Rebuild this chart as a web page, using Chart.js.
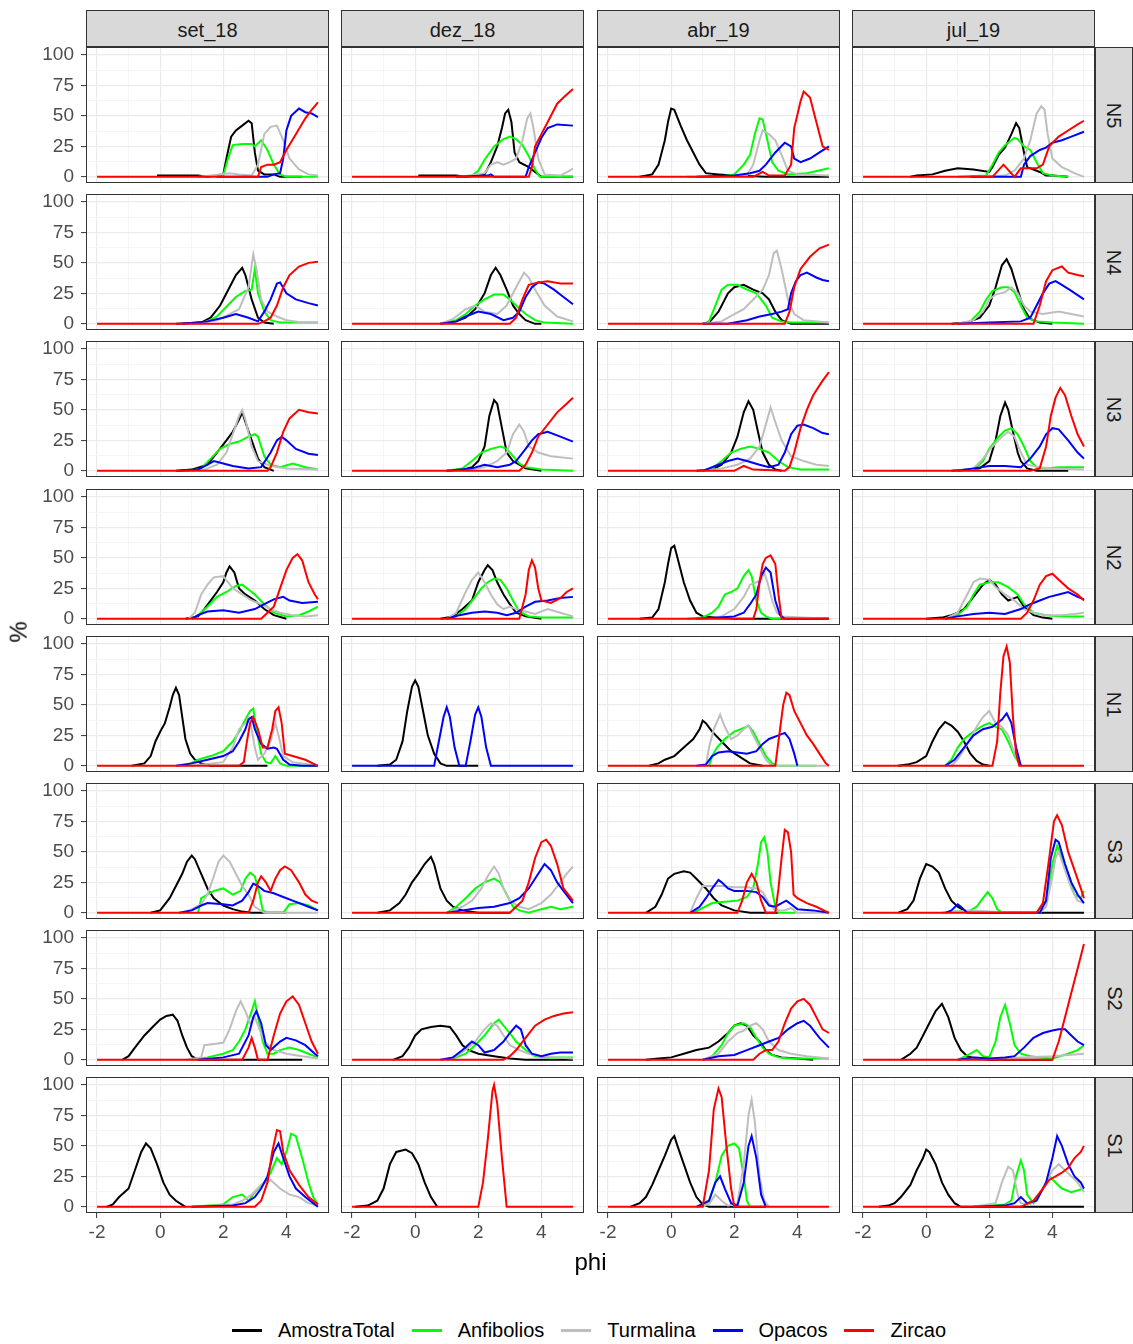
<!DOCTYPE html>
<html>
<head>
<meta charset="utf-8">
<script src="https://cdn.jsdelivr.net/npm/chart.js@4.4.1/dist/chart.umd.min.js"></script>
<style>
  body { margin: 0; background: #fff; }
  #fig { position: relative; width: 1133px; height: 1344px; overflow: hidden; font-family: "Liberation Sans", Arial, sans-serif; }
  #fig canvas { position: absolute; }
  .strip { position: absolute; box-sizing: border-box; background: #d9d9d9; border: 1px solid #333; color: #1a1a1a; font-size: 20px; display: flex; align-items: center; justify-content: center; }
  .strip.top { padding-top: 3px; }
  .strip.side span { transform: rotate(90deg); white-space: nowrap; }
  .title { position: absolute; color: #000; font-size: 24px; white-space: nowrap; }
  #legend { position: absolute; left: 0; width: 1195px; top: 1319px; display: flex; justify-content: center; align-items: center; font-size: 20px; color: #000; }
  #legend .key { width: 30px; height: 2.5px; margin-right: 16px; }
  #legend .lab { margin-right: 17px; }
</style>
</head>
<body>
<div id="fig"></div>
<script>
const samples = ['set_18', 'dez_18', 'abr_19', 'jul_19'];
const levels = ['N5', 'N4', 'N3', 'N2', 'N1', 'S3', 'S2', 'S1'];
const seriesNames = ['AmostraTotal', 'Anfibolios', 'Turmalina', 'Opacos', 'Zircao'];
const seriesColors = ['#000000', '#00ff00', '#bebebe', '#0000ff', '#ff0000'];
const xGrid = [-2, -1, 0, 1, 2, 3, 4, 5];
const xTickLabels = [-2, 0, 2, 4];
const yGrid = [0, 12.5, 25, 37.5, 50, 62.5, 75, 87.5, 100];
const yTickLabels = [0, 25, 50, 75, 100];

// each panel: [AmostraTotal, Anfibolios, Turmalina, Opacos, Zircao] as flat phi,% pairs
const set18_N5 = [
  [-0.1,1, 1.2,1, 1.5,0, 2.0,2, 2.1,15, 2.25,33, 2.4,38, 2.6,42, 2.8,46, 2.9,44, 3.0,20, 3.1,5, 3.3,2, 3.6,2, 3.8,0, 4.5,0],
  [1.2,0, 2.0,1, 2.15,15, 2.3,26, 2.6,27, 2.9,27, 3.0,25, 3.2,30, 3.4,22, 3.6,10, 3.8,2, 4.0,0, 5.0,0],
  [1.3,0, 2.2,3, 2.5,2, 2.9,1, 3.1,10, 3.3,35, 3.5,41, 3.7,42, 3.9,30, 4.1,15, 4.4,6, 4.7,2, 5.0,1],
  [1.8,0, 3.4,0, 3.6,2, 3.8,3, 3.9,15, 4.0,38, 4.15,50, 4.4,56, 4.6,53, 4.8,52, 5.0,49],
  [-2,0, 3.1,0, 3.2,8, 3.4,10, 3.6,10, 3.8,12, 4.0,22, 4.3,35, 4.6,48, 4.8,55, 5.0,61]
];
const dez18_N5 = [
  [0.1,1, 1.3,1, 1.6,0, 2.2,2, 2.4,12, 2.6,25, 2.75,40, 2.85,52, 2.95,55, 3.05,45, 3.15,20, 3.3,12, 3.6,8, 3.8,4, 4.0,0, 5.0,0],
  [1.3,0, 1.8,1, 2.0,5, 2.2,14, 2.5,25, 2.8,31, 3.0,33, 3.2,31, 3.4,26, 3.6,17, 3.8,6, 3.95,0, 5.0,0],
  [1.5,0, 2.2,3, 2.4,10, 2.6,12, 2.8,10, 3.0,12, 3.2,15, 3.4,30, 3.55,48, 3.65,52, 3.75,40, 3.9,15, 4.1,2, 4.6,1, 4.9,5, 5.0,7],
  [1.3,0, 2.3,1, 2.4,2, 2.5,0, 3.5,0, 3.6,8, 3.8,20, 4.0,32, 4.2,40, 4.5,43, 5.0,42],
  [-2,0, 3.6,0, 3.7,8, 3.8,25, 4.0,35, 4.2,45, 4.5,60, 4.7,65, 5.0,72]
];
const abr19_N5 = [
  [-1.0,0, -0.6,2, -0.4,10, -0.2,30, -0.1,45, 0.0,56, 0.1,55, 0.3,42, 0.5,30, 0.7,20, 0.9,10, 1.1,3, 1.5,2, 2.0,1, 3.0,0, 5.0,0],
  [0.5,0, 1.5,0, 2.0,2, 2.3,10, 2.5,18, 2.65,35, 2.8,48, 2.9,47, 3.05,30, 3.2,12, 3.4,5, 3.7,2, 4.3,3, 5.0,7],
  [1.5,0, 2.4,1, 2.6,10, 2.8,30, 2.9,38, 3.1,35, 3.3,30, 3.5,18, 3.7,5, 4.0,2, 5.0,1],
  [0.8,0, 2.0,1, 2.5,3, 2.8,5, 3.0,10, 3.3,20, 3.6,28, 3.8,25, 3.9,15, 4.1,12, 4.4,15, 4.7,20, 5.0,25],
  [-2,0, 2.6,0, 2.9,4, 3.1,1, 3.6,1, 3.8,10, 3.9,40, 4.1,62, 4.2,70, 4.4,65, 4.6,45, 4.8,25, 5.0,22]
];
const jul19_N5 = [
  [-0.5,0, -0.3,1, 0.2,2, 0.6,5, 1.0,7, 1.5,6, 2.0,4, 2.1,8, 2.3,18, 2.5,24, 2.7,35, 2.85,44, 2.95,40, 3.1,20, 3.2,8, 3.4,6, 3.6,4, 3.8,1, 4.0,1, 4.5,0],
  [1.0,0, 1.9,1, 2.1,10, 2.3,20, 2.5,26, 2.8,32, 2.9,31, 3.1,25, 3.3,22, 3.5,12, 3.7,3, 4.0,1, 4.5,0],
  [1.5,0, 2.5,1, 2.8,5, 3.1,15, 3.3,30, 3.5,52, 3.65,58, 3.75,55, 3.85,35, 4.0,15, 4.3,8, 4.7,3, 5.0,0],
  [1.4,0, 3.0,0, 3.1,10, 3.3,17, 3.6,22, 3.8,24, 4.0,28, 4.3,30, 4.6,33, 5.0,37],
  [-2,0, 2.1,0, 2.45,10, 2.8,0, 3.0,7, 3.5,7, 3.7,10, 3.9,25, 4.2,33, 4.5,38, 4.8,43, 5.0,46]
];

const set18_N4 = [
  [0.5,0, 1.3,1, 1.6,5, 1.9,15, 2.2,30, 2.4,40, 2.6,46, 2.7,40, 2.9,20, 3.1,5, 3.3,1, 3.6,0],
  [1.0,0, 1.5,2, 1.8,6, 2.1,14, 2.4,22, 2.7,27, 2.9,28, 3.0,45, 3.1,25, 3.3,10, 3.5,3, 3.8,1, 4.5,1, 5.0,1],
  [1.0,0, 1.8,3, 2.2,8, 2.5,12, 2.8,30, 2.95,57, 3.05,45, 3.2,20, 3.4,10, 3.7,6, 4.0,3, 4.5,1, 5.0,1],
  [0.7,0, 1.5,2, 2.0,5, 2.4,8, 2.8,5, 3.1,2, 3.3,10, 3.5,20, 3.7,33, 3.8,34, 4.0,25, 4.3,20, 4.7,17, 5.0,15],
  [-2,0, 3.1,0, 3.3,2, 3.5,5, 3.7,15, 3.9,30, 4.1,40, 4.4,47, 4.7,50, 5.0,51]
];
const dez18_N4 = [
  [0.8,0, 1.3,2, 1.6,5, 1.9,12, 2.2,25, 2.4,40, 2.55,46, 2.7,40, 2.9,28, 3.1,15, 3.3,8, 3.5,3, 3.8,0, 4.0,0],
  [0.8,0, 1.3,3, 1.6,8, 1.9,15, 2.2,20, 2.5,24, 2.8,24, 3.0,20, 3.2,15, 3.5,8, 3.8,3, 4.1,1, 5.0,0],
  [0.8,0, 1.2,4, 1.6,12, 1.9,15, 2.2,10, 2.6,8, 2.9,15, 3.2,30, 3.45,42, 3.6,38, 3.8,28, 4.1,15, 4.5,6, 5.0,2],
  [0.8,0, 1.3,2, 1.6,6, 2.0,10, 2.4,8, 2.8,3, 3.1,5, 3.3,10, 3.5,22, 3.7,30, 3.9,34, 4.1,33, 4.4,28, 4.7,22, 5.0,16],
  [-2,0, 3.0,0, 3.2,5, 3.4,20, 3.6,32, 3.9,34, 4.2,35, 4.6,33, 5.0,33]
];
const abr19_N4 = [
  [1.0,0, 1.2,1, 1.5,10, 1.8,25, 2.0,30, 2.3,32, 2.6,28, 2.9,25, 3.1,20, 3.3,10, 3.5,3, 3.8,0, 5.0,0],
  [1.0,0, 1.2,2, 1.4,15, 1.6,28, 1.8,32, 2.1,32, 2.4,28, 2.7,25, 3.0,15, 3.2,5, 3.5,2, 3.8,1, 5.0,1],
  [1.0,0, 1.6,2, 2.0,8, 2.3,12, 2.6,20, 2.9,28, 3.1,40, 3.25,58, 3.35,60, 3.5,45, 3.7,20, 3.9,8, 4.2,3, 5.0,1],
  [1.0,0, 1.8,0, 2.4,3, 2.8,6, 3.2,8, 3.5,10, 3.7,12, 3.8,25, 3.95,35, 4.1,40, 4.3,42, 4.6,38, 4.8,36, 5.0,35],
  [-2,0, 3.6,0, 3.75,10, 3.9,30, 4.1,45, 4.4,55, 4.7,62, 5.0,65]
];
const jul19_N4 = [
  [0.8,0, 1.3,1, 1.7,5, 2.0,15, 2.2,30, 2.4,48, 2.55,53, 2.7,45, 2.9,28, 3.1,12, 3.3,4, 3.6,1, 4.0,0],
  [1.0,0, 1.4,2, 1.7,10, 1.9,20, 2.1,27, 2.4,30, 2.6,30, 2.8,26, 3.0,15, 3.2,5, 3.5,2, 4.0,1, 5.0,0],
  [1.0,0, 1.5,3, 1.8,10, 2.0,20, 2.2,24, 2.5,26, 2.7,30, 2.9,25, 3.1,15, 3.3,10, 3.7,8, 4.2,10, 4.6,8, 5.0,6],
  [1.0,0, 2.0,1, 3.0,2, 3.3,5, 3.5,15, 3.7,25, 3.9,33, 4.1,35, 4.3,32, 4.6,27, 5.0,20],
  [-2,0, 3.4,0, 3.6,15, 3.8,35, 4.0,44, 4.3,47, 4.5,42, 4.8,40, 5.0,39]
];

const set18_N3 = [
  [0.5,0, 1.0,1, 1.5,5, 1.8,15, 2.1,25, 2.3,32, 2.5,42, 2.6,48, 2.7,40, 2.9,25, 3.1,10, 3.3,3, 3.6,0],
  [1.0,0, 1.3,2, 1.6,10, 1.9,18, 2.2,22, 2.5,24, 2.8,28, 3.0,30, 3.1,28, 3.3,12, 3.5,5, 3.8,3, 4.2,6, 4.6,3, 5.0,1],
  [0.8,0, 1.4,1, 1.8,5, 2.1,15, 2.3,30, 2.5,45, 2.6,50, 2.7,42, 2.9,20, 3.1,8, 3.5,4, 4.0,2, 5.0,1],
  [0.6,0, 1.2,1, 1.5,5, 1.7,8, 2.0,6, 2.3,4, 2.8,2, 3.2,3, 3.5,15, 3.7,25, 3.85,28, 4.0,25, 4.3,18, 4.7,14, 5.0,13],
  [-2,0, 3.4,0, 3.5,3, 3.7,15, 3.9,32, 4.1,43, 4.4,50, 4.7,48, 5.0,47]
];
const dez18_N3 = [
  [1.0,0, 1.5,1, 1.8,3, 2.0,8, 2.2,20, 2.35,45, 2.5,58, 2.6,55, 2.75,35, 2.9,15, 3.1,8, 3.3,5, 3.5,2, 4.0,0],
  [1.0,0, 1.5,2, 1.8,8, 2.1,15, 2.4,18, 2.7,20, 2.9,18, 3.1,12, 3.3,6, 3.5,3, 4.0,1, 5.0,0],
  [1.0,0, 1.8,1, 2.2,3, 2.6,8, 2.9,15, 3.1,30, 3.3,38, 3.45,32, 3.6,20, 3.9,15, 4.3,12, 5.0,10],
  [1.0,0, 1.8,2, 2.2,5, 2.6,3, 3.0,5, 3.2,8, 3.5,18, 3.7,25, 3.9,30, 4.2,32, 4.6,28, 5.0,24],
  [-2,0, 3.3,0, 3.5,5, 3.7,15, 3.9,28, 4.2,38, 4.5,48, 4.8,55, 5.0,60]
];
const abr19_N3 = [
  [0.8,0, 1.3,1, 1.6,5, 1.9,15, 2.1,28, 2.3,48, 2.45,57, 2.6,50, 2.75,32, 2.9,15, 3.1,5, 3.3,1, 3.5,0],
  [1.0,0, 1.3,2, 1.6,8, 1.9,15, 2.2,18, 2.5,20, 2.8,18, 3.1,15, 3.4,8, 3.7,3, 4.1,1, 5.0,1],
  [1.0,0, 1.6,2, 2.1,5, 2.5,10, 2.8,20, 3.0,38, 3.15,52, 3.3,40, 3.5,25, 3.8,12, 4.2,8, 4.6,5, 5.0,4],
  [1.0,0, 1.5,5, 1.8,8, 2.1,10, 2.4,8, 2.8,5, 3.1,3, 3.4,5, 3.6,15, 3.8,30, 4.0,37, 4.2,38, 4.5,35, 4.8,31, 5.0,30],
  [-2,0, 2.0,0, 2.3,4, 2.6,1, 3.6,0, 3.75,3, 3.9,15, 4.1,35, 4.3,50, 4.5,62, 4.8,74, 5.0,81]
];
const jul19_N3 = [
  [0.8,0, 1.3,1, 1.7,2, 2.0,8, 2.2,25, 2.35,45, 2.5,56, 2.6,50, 2.75,32, 2.9,15, 3.0,8, 3.2,2, 3.5,0, 4.5,0],
  [1.0,0, 1.5,1, 1.8,8, 2.0,18, 2.3,28, 2.5,33, 2.7,35, 2.9,30, 3.1,20, 3.3,8, 3.5,3, 3.8,2, 4.2,3, 4.6,3, 5.0,3],
  [1.0,0, 1.5,2, 1.8,10, 2.1,20, 2.4,28, 2.6,32, 2.8,28, 3.0,15, 3.2,5, 3.6,3, 4.0,2, 5.0,1],
  [1.0,0, 1.5,2, 2.0,4, 2.5,4, 3.0,3, 3.3,10, 3.6,20, 3.8,30, 4.0,35, 4.2,34, 4.5,25, 4.8,15, 5.0,10],
  [-2,0, 3.3,0, 3.6,2, 3.8,20, 3.95,45, 4.1,60, 4.25,68, 4.4,62, 4.6,45, 4.8,30, 5.0,20]
];

const set18_N2 = [
  [0.8,0, 1.2,2, 1.4,8, 1.6,15, 1.8,22, 2.0,30, 2.1,38, 2.2,43, 2.35,38, 2.5,25, 2.7,20, 3.0,15, 3.3,8, 3.6,3, 4.0,0],
  [1.0,0, 1.2,3, 1.5,10, 1.8,18, 2.1,22, 2.4,27, 2.6,28, 2.8,24, 3.0,20, 3.3,12, 3.6,5, 4.0,2, 4.4,3, 4.7,6, 5.0,10],
  [0.9,0, 1.1,5, 1.3,20, 1.5,28, 1.7,34, 2.0,35, 2.3,25, 2.6,20, 2.9,15, 3.2,12, 3.5,8, 3.8,5, 4.2,3, 4.6,2, 5.0,3],
  [1.0,0, 1.2,3, 1.5,6, 2.0,7, 2.5,5, 3.0,8, 3.3,12, 3.6,16, 3.9,18, 4.1,15, 4.5,13, 5.0,14],
  [-2,0, 3.2,0, 3.4,5, 3.6,10, 3.8,25, 4.0,40, 4.2,50, 4.35,53, 4.5,48, 4.7,30, 4.9,20, 5.0,16]
];
const dez18_N2 = [
  [0.8,0, 1.2,2, 1.5,8, 1.8,15, 2.0,30, 2.2,40, 2.3,44, 2.45,40, 2.6,30, 2.8,20, 3.0,12, 3.2,5, 3.5,2, 4.0,0],
  [1.0,0, 1.3,2, 1.6,8, 1.9,18, 2.1,25, 2.3,30, 2.5,33, 2.7,32, 2.9,25, 3.1,15, 3.3,6, 3.6,2, 4.0,1, 5.0,1],
  [1.0,0, 1.3,5, 1.6,22, 1.8,32, 2.0,38, 2.2,30, 2.4,20, 2.6,12, 2.8,8, 3.0,10, 3.2,8, 3.5,6, 3.8,4, 4.2,8, 4.6,5, 5.0,2],
  [1.0,0, 1.4,3, 1.8,5, 2.2,6, 2.6,5, 2.9,3, 3.2,5, 3.5,10, 3.8,14, 4.2,15, 4.6,17, 5.0,18],
  [-2,0, 3.3,0, 3.5,20, 3.6,40, 3.7,48, 3.8,42, 3.9,25, 4.0,15, 4.3,13, 4.6,17, 4.8,22, 5.0,25]
];
const abr19_N2 = [
  [-1.0,0, -0.6,1, -0.4,8, -0.2,30, -0.1,45, 0.0,58, 0.1,60, 0.2,50, 0.4,30, 0.6,15, 0.8,5, 1.0,2, 1.5,1, 2.0,0, 5.0,0],
  [0.5,0, 1.0,1, 1.3,5, 1.5,10, 1.7,20, 1.9,22, 2.1,25, 2.3,35, 2.45,40, 2.55,35, 2.7,15, 2.85,5, 3.0,2, 3.2,0, 5.0,0],
  [1.0,0, 1.6,2, 2.0,8, 2.3,18, 2.5,28, 2.7,30, 2.85,32, 2.95,38, 3.05,30, 3.2,15, 3.35,5, 3.5,2, 5.0,0],
  [0.8,0, 1.5,1, 2.0,2, 2.3,5, 2.5,12, 2.7,20, 2.85,35, 3.0,42, 3.15,38, 3.3,15, 3.45,3, 3.6,0, 5.0,0],
  [-2,0, 2.6,0, 2.7,8, 2.8,30, 2.9,45, 3.0,50, 3.15,52, 3.3,45, 3.4,20, 3.5,0, 5.0,0]
];
const jul19_N2 = [
  [0.0,0, 0.5,1, 0.8,3, 1.0,5, 1.2,8, 1.5,18, 1.8,28, 2.0,32, 2.2,28, 2.4,20, 2.6,15, 2.9,18, 3.1,10, 3.4,3, 3.7,1, 4.0,0],
  [0.6,0, 1.0,3, 1.3,10, 1.5,20, 1.7,28, 2.0,30, 2.3,30, 2.6,26, 2.9,20, 3.1,12, 3.4,5, 3.8,3, 4.3,2, 5.0,2],
  [0.6,0, 1.0,5, 1.3,20, 1.5,30, 1.7,33, 2.0,32, 2.2,26, 2.5,20, 2.8,15, 3.1,8, 3.4,5, 3.8,3, 4.3,3, 4.7,4, 5.0,5],
  [0.6,0, 1.0,2, 1.5,4, 2.0,5, 2.5,4, 3.0,8, 3.3,12, 3.6,15, 3.9,18, 4.2,20, 4.5,22, 4.8,18, 5.0,16],
  [-2,0, 3.0,0, 3.2,5, 3.4,15, 3.6,28, 3.8,35, 4.0,37, 4.2,32, 4.5,25, 4.8,20, 5.0,15]
];

const set18_N1 = [
  [-0.9,0, -0.5,2, -0.3,8, -0.15,20, 0.0,28, 0.15,35, 0.3,48, 0.4,58, 0.5,64, 0.6,58, 0.7,40, 0.8,22, 0.95,10, 1.1,5, 1.3,2, 1.6,0, 3.4,0],
  [0.8,0, 1.2,5, 1.6,8, 2.0,12, 2.3,20, 2.5,28, 2.7,38, 2.85,45, 2.95,47, 3.05,30, 3.2,10, 3.35,3, 3.5,2, 3.65,8, 3.8,2, 4.0,0, 5.0,0],
  [1.0,0, 2.0,3, 2.3,15, 2.5,30, 2.7,35, 2.8,40, 2.9,30, 3.0,15, 3.1,5, 3.3,10, 3.5,20, 3.65,35, 3.75,25, 3.9,8, 4.2,3, 5.0,0],
  [0.5,0, 1.0,2, 1.5,5, 2.0,8, 2.3,12, 2.5,20, 2.7,30, 2.8,38, 2.9,40, 3.0,30, 3.2,18, 3.4,14, 3.6,15, 3.7,14, 3.9,5, 4.1,1, 4.5,0, 5.0,0],
  [-2,0, 2.5,0, 2.65,3, 2.75,20, 2.85,35, 2.95,40, 3.1,30, 3.25,15, 3.4,15, 3.55,30, 3.65,45, 3.75,48, 3.85,35, 3.95,10, 4.2,8, 4.6,5, 5.0,0]
];
const dez18_N1 = [
  [-1.2,0, -0.8,1, -0.6,5, -0.4,20, -0.25,45, -0.1,65, 0.0,70, 0.1,65, 0.25,45, 0.4,25, 0.6,10, 0.8,2, 1.0,0, 2.0,0],
  [],
  [],
  [-2,0, 0.6,0, 0.75,20, 0.9,40, 1.0,48, 1.1,40, 1.25,15, 1.4,0, 1.6,0, 1.75,20, 1.9,42, 2.0,48, 2.1,40, 2.25,15, 2.4,0, 5.0,0],
  []
];
const abr19_N1 = [
  [-0.7,0, -0.4,2, -0.2,5, 0.1,8, 0.4,15, 0.7,22, 0.9,30, 1.0,37, 1.1,35, 1.3,28, 1.6,20, 1.9,12, 2.2,7, 2.5,2, 2.9,0],
  [1.2,0, 1.3,8, 1.45,15, 1.7,22, 2.0,28, 2.3,31, 2.45,33, 2.6,28, 2.8,18, 3.0,8, 3.2,2, 3.4,0, 4.6,0],
  [1.1,0, 1.2,15, 1.35,30, 1.55,42, 1.7,32, 1.9,22, 2.1,25, 2.3,30, 2.45,33, 2.6,25, 2.8,15, 3.0,5, 3.2,0, 5.0,0],
  [0.8,0, 1.1,1, 1.3,8, 1.5,11, 1.8,12, 2.1,11, 2.4,10, 2.7,12, 2.9,18, 3.1,22, 3.4,25, 3.6,27, 3.75,22, 3.9,10, 4.0,0],
  [-2,0, 3.3,0, 3.45,30, 3.55,50, 3.65,60, 3.75,58, 3.9,45, 4.1,35, 4.3,25, 4.5,18, 4.7,10, 4.9,2, 5.0,0]
];
const jul19_N1 = [
  [-0.9,0, -0.6,1, -0.3,3, 0.0,8, 0.2,20, 0.4,30, 0.6,36, 0.8,33, 1.0,28, 1.2,20, 1.4,10, 1.6,4, 1.8,1, 2.0,0],
  [0.6,0, 0.8,5, 1.0,15, 1.2,22, 1.5,28, 1.8,33, 2.0,35, 2.2,32, 2.4,30, 2.6,20, 2.8,8, 3.0,0],
  [0.8,0, 1.0,5, 1.3,18, 1.6,32, 1.8,40, 2.0,45, 2.2,35, 2.4,32, 2.6,25, 2.8,10, 3.0,0],
  [0.6,0, 0.9,5, 1.2,15, 1.5,25, 1.8,30, 2.1,32, 2.4,38, 2.55,43, 2.7,35, 2.85,15, 3.0,0],
  [-2,0, 2.1,0, 2.25,20, 2.35,60, 2.45,90, 2.55,98, 2.65,85, 2.75,40, 2.85,10, 2.95,0, 5.0,0]
];

const set18_S3 = [
  [-0.3,0, 0.0,2, 0.3,12, 0.5,22, 0.7,32, 0.85,42, 1.0,47, 1.1,44, 1.3,32, 1.5,20, 1.7,12, 2.0,6, 2.3,3, 2.6,1, 2.9,0, 4.0,0],
  [1.2,0, 1.3,12, 1.5,15, 1.7,18, 2.0,20, 2.3,15, 2.55,18, 2.7,28, 2.85,33, 3.0,30, 3.15,15, 3.25,2, 3.4,0, 3.9,0, 4.1,7, 4.4,8, 4.7,6, 5.0,2],
  [0.7,0, 1.0,3, 1.3,7, 1.5,15, 1.7,30, 1.85,42, 2.0,47, 2.2,42, 2.4,32, 2.6,22, 2.8,15, 3.0,5, 3.3,0, 5.0,0],
  [0.6,0, 1.0,2, 1.3,6, 1.5,8, 2.0,7, 2.3,6, 2.6,10, 2.8,17, 2.95,24, 3.1,22, 3.3,18, 3.6,16, 3.9,13, 4.2,10, 4.5,7, 4.8,4, 5.0,2],
  [-2,0, 2.8,0, 2.95,10, 3.1,25, 3.2,30, 3.35,25, 3.5,18, 3.65,28, 3.8,35, 3.95,38, 4.15,35, 4.4,25, 4.6,15, 4.8,10, 5.0,8]
];
const dez18_S3 = [
  [-1.2,0, -0.8,2, -0.5,8, -0.3,15, -0.1,25, 0.1,32, 0.3,40, 0.5,46, 0.6,40, 0.8,20, 1.0,10, 1.2,5, 1.5,2, 2.0,0, 3.0,0],
  [1.0,0, 1.3,5, 1.6,12, 1.9,20, 2.2,25, 2.5,28, 2.7,25, 2.9,15, 3.1,5, 3.3,2, 3.6,0, 4.0,3, 4.3,5, 4.6,3, 5.0,5],
  [1.0,0, 1.5,5, 1.8,10, 2.1,20, 2.3,30, 2.5,38, 2.65,32, 2.8,20, 3.0,10, 3.3,5, 3.6,3, 4.0,8, 4.3,15, 4.6,25, 4.8,32, 5.0,38],
  [1.0,0, 1.5,2, 2.0,4, 2.5,5, 3.0,8, 3.3,12, 3.6,20, 3.9,32, 4.1,40, 4.3,35, 4.5,25, 4.7,18, 5.0,8],
  [-2,0, 3.0,0, 3.2,5, 3.4,10, 3.6,25, 3.8,45, 4.0,58, 4.15,60, 4.3,55, 4.5,40, 4.7,20, 5.0,10]
];
const abr19_S3 = [
  [-0.8,0, -0.5,5, -0.3,15, -0.1,28, 0.1,32, 0.4,34, 0.6,33, 0.8,28, 1.1,20, 1.35,12, 1.6,6, 2.0,2, 2.5,0, 3.4,0],
  [0.7,0, 1.0,4, 1.3,8, 1.7,9, 2.1,10, 2.4,13, 2.6,20, 2.75,40, 2.85,58, 2.95,62, 3.05,50, 3.15,25, 3.3,5, 3.4,0, 3.95,0],
  [0.6,0, 0.8,12, 1.0,22, 1.3,22, 1.6,22, 2.0,21, 2.4,21, 2.7,20, 2.9,17, 3.1,8, 3.3,2, 3.6,2, 3.8,4, 4.0,0, 5.0,0],
  [0.6,0, 0.9,5, 1.1,12, 1.3,20, 1.5,27, 1.6,25, 1.8,20, 2.0,18, 2.4,18, 2.7,17, 2.9,13, 3.1,6, 3.3,5, 3.5,8, 3.65,10, 3.8,7, 4.0,3, 4.5,2, 5.0,0],
  [-2,0, 2.1,0, 2.25,10, 2.4,25, 2.55,32, 2.7,25, 2.85,10, 3.0,0, 3.3,0, 3.4,20, 3.5,45, 3.6,68, 3.7,66, 3.8,50, 3.88,15, 4.0,12, 4.3,8, 4.6,5, 5.0,0]
];
const jul19_S3 = [
  [-0.9,0, -0.6,3, -0.4,10, -0.2,28, 0.0,40, 0.2,38, 0.4,33, 0.6,20, 0.8,10, 1.0,5, 1.2,2, 1.5,0, 3.2,0, 5.0,0],
  [0.5,0, 1.0,1, 1.4,2, 1.6,5, 1.8,12, 1.95,17, 2.1,12, 2.25,3, 2.4,0, 3.5,0, 3.8,10, 4.0,40, 4.15,55, 4.3,45, 4.5,30, 4.7,15, 4.9,12, 5.0,18],
  [0.6,0, 1.0,1, 1.5,2, 2.0,1, 2.5,0, 3.6,0, 3.8,5, 4.0,30, 4.1,45, 4.2,50, 4.4,35, 4.6,20, 4.8,10, 5.0,8],
  [0.6,0, 0.8,2, 1.0,7, 1.1,5, 1.3,0, 3.6,0, 3.8,10, 3.95,45, 4.1,60, 4.2,58, 4.4,40, 4.6,25, 4.8,15, 5.0,8],
  [-2,0, 3.5,0, 3.7,8, 3.9,45, 4.05,75, 4.15,80, 4.3,72, 4.5,50, 4.7,35, 4.9,20, 5.0,12]
];

const set18_S2 = [
  [-1.2,0, -1.0,3, -0.8,10, -0.5,20, -0.2,28, 0.0,33, 0.2,36, 0.4,37, 0.55,32, 0.7,20, 0.85,10, 1.0,3, 1.2,0, 4.5,0],
  [1.0,0, 1.5,2, 2.0,5, 2.3,8, 2.5,15, 2.7,25, 2.9,40, 3.0,48, 3.1,35, 3.25,15, 3.4,5, 3.6,5, 3.8,8, 4.1,10, 4.4,8, 4.7,5, 5.0,2],
  [0.8,0, 1.3,2, 1.4,12, 1.7,13, 2.0,14, 2.2,25, 2.4,40, 2.55,48, 2.7,40, 2.85,30, 3.0,35, 3.15,25, 3.3,15, 3.6,8, 4.0,5, 4.5,3, 5.0,1],
  [1.2,0, 2.0,2, 2.5,5, 2.8,20, 2.95,35, 3.05,40, 3.2,30, 3.35,12, 3.5,8, 3.8,15, 4.0,18, 4.3,16, 4.6,12, 4.9,5, 5.0,3],
  [-2,0, 2.6,0, 2.8,10, 2.9,18, 3.0,10, 3.1,0, 3.4,0, 3.6,20, 3.8,38, 4.0,48, 4.2,52, 4.4,45, 4.6,30, 4.8,15, 5.0,5]
];
const dez18_S2 = [
  [-0.7,0, -0.4,3, -0.2,10, 0.0,20, 0.2,25, 0.5,27, 0.8,28, 1.1,27, 1.3,20, 1.5,12, 1.7,8, 2.0,5, 2.5,3, 3.0,1, 3.5,0, 5.0,0],
  [1.0,0, 1.3,2, 1.6,5, 1.9,12, 2.2,20, 2.5,30, 2.65,33, 2.8,28, 3.0,22, 3.2,15, 3.5,8, 3.8,3, 4.2,2, 5.0,2],
  [1.0,0, 1.3,3, 1.6,8, 1.9,15, 2.2,25, 2.4,30, 2.6,28, 2.8,20, 3.0,12, 3.3,8, 3.6,5, 4.0,3, 4.5,2, 5.0,1],
  [0.8,0, 1.2,2, 1.5,8, 1.8,15, 2.0,12, 2.2,6, 2.5,8, 2.8,15, 3.0,22, 3.2,28, 3.35,25, 3.5,12, 3.7,5, 4.0,3, 4.3,5, 4.6,6, 5.0,6],
  [-2,0, 2.8,0, 3.0,3, 3.2,8, 3.5,18, 3.8,28, 4.1,33, 4.4,36, 4.7,38, 5.0,39]
];
const abr19_S2 = [
  [-0.8,0, -0.4,1, 0.0,2, 0.4,5, 0.8,8, 1.2,10, 1.5,15, 1.8,22, 2.0,28, 2.2,30, 2.4,28, 2.6,20, 2.8,15, 3.0,8, 3.2,4, 3.5,2, 4.0,1, 4.5,0],
  [1.0,0, 1.3,3, 1.6,12, 1.8,22, 2.0,28, 2.3,30, 2.5,27, 2.7,18, 2.9,10, 3.1,5, 3.4,2, 3.8,1, 5.0,1],
  [1.0,0, 1.5,5, 1.8,15, 2.1,22, 2.3,24, 2.5,28, 2.7,30, 2.9,25, 3.1,15, 3.4,8, 3.8,5, 4.3,3, 5.0,1],
  [1.0,0, 1.5,3, 2.0,4, 2.4,8, 2.8,12, 3.1,15, 3.4,18, 3.7,25, 4.0,30, 4.2,32, 4.4,28, 4.7,18, 5.0,10],
  [-2,0, 2.6,0, 2.8,5, 3.0,8, 3.2,8, 3.4,15, 3.6,30, 3.8,42, 4.0,48, 4.2,50, 4.4,45, 4.6,35, 4.8,25, 5.0,22]
];
const jul19_S2 = [
  [-0.8,0, -0.5,5, -0.3,10, -0.1,20, 0.1,30, 0.3,40, 0.5,46, 0.7,35, 0.9,18, 1.1,8, 1.3,3, 1.6,1, 2.0,0, 4.0,0],
  [1.0,0, 1.4,5, 1.6,8, 1.8,3, 2.0,2, 2.2,15, 2.35,35, 2.5,45, 2.65,30, 2.8,12, 3.0,5, 3.3,3, 3.6,2, 4.0,1, 4.5,5, 4.8,8, 5.0,12],
  [1.0,0, 1.5,2, 2.0,1, 3.0,2, 4.0,3, 5.0,5],
  [1.0,0, 1.5,2, 2.0,1, 2.5,2, 2.8,3, 3.1,10, 3.4,18, 3.7,22, 4.0,24, 4.2,25, 4.4,25, 4.6,20, 4.8,15, 5.0,12],
  [-2,0, 4.0,0, 4.2,15, 4.4,35, 4.6,55, 4.8,75, 5.0,95]
];

const set18_S1 = [
  [-1.7,0, -1.5,2, -1.3,8, -1.0,15, -0.8,30, -0.6,45, -0.45,52, -0.3,48, -0.1,35, 0.1,20, 0.3,10, 0.5,5, 0.8,0],
  [1.0,0, 2.0,2, 2.3,8, 2.6,10, 2.8,5, 3.0,12, 3.3,20, 3.5,28, 3.7,40, 3.85,35, 4.0,45, 4.15,60, 4.3,58, 4.5,40, 4.7,20, 4.85,8, 5.0,2],
  [1.0,0, 2.3,2, 2.6,5, 2.9,10, 3.2,18, 3.5,22, 3.8,15, 4.1,10, 4.4,8, 4.7,3, 5.0,1],
  [1.0,0, 2.3,1, 2.7,3, 3.0,8, 3.2,15, 3.4,25, 3.6,45, 3.75,52, 3.9,40, 4.1,25, 4.3,15, 4.6,8, 4.9,2, 5.0,0],
  [-2,0, 3.0,0, 3.2,5, 3.4,20, 3.55,45, 3.7,63, 3.8,62, 3.9,45, 4.1,30, 4.4,18, 4.7,8, 5.0,2]
];
const dez18_S1 = [
  [-1.9,0, -1.5,1, -1.2,5, -1.0,15, -0.8,35, -0.6,45, -0.3,47, -0.1,44, 0.1,35, 0.3,20, 0.5,8, 0.7,0],
  [],
  [],
  [],
  [-2,0, 2.0,0, 2.15,20, 2.3,55, 2.45,95, 2.5,100, 2.6,85, 2.75,40, 2.9,0, 5.0,0]
];
const abr19_S1 = [
  [-1.3,0, -1.0,3, -0.8,8, -0.6,18, -0.4,30, -0.2,42, 0.0,55, 0.1,58, 0.2,50, 0.4,35, 0.6,20, 0.8,8, 1.0,2, 1.2,0, 3.0,0],
  [1.0,0, 1.2,5, 1.4,20, 1.6,42, 1.8,50, 2.0,52, 2.15,48, 2.3,25, 2.4,5, 2.5,0],
  [0.8,0, 1.2,2, 1.4,10, 1.6,5, 1.8,1, 2.1,3, 2.3,35, 2.45,75, 2.55,88, 2.65,70, 2.8,25, 2.95,5, 3.1,0],
  [0.8,0, 1.2,5, 1.4,20, 1.55,25, 1.7,15, 1.9,3, 2.1,1, 2.3,20, 2.45,50, 2.55,58, 2.7,40, 2.85,10, 3.0,0],
  [-2,0, 1.0,0, 1.2,30, 1.35,80, 1.5,97, 1.6,90, 1.75,50, 1.9,15, 2.0,0, 5.0,0]
];
const jul19_S1 = [
  [-1.5,0, -1.2,1, -1.0,3, -0.8,8, -0.5,18, -0.3,30, -0.1,40, 0.0,47, 0.1,45, 0.3,35, 0.5,20, 0.7,10, 0.9,3, 1.1,0, 5.0,0],
  [1.5,0, 2.5,2, 2.7,5, 2.85,25, 3.0,38, 3.1,30, 3.2,10, 3.4,3, 3.7,15, 3.9,25, 4.1,20, 4.3,15, 4.6,12, 5.0,15],
  [1.5,0, 2.2,3, 2.4,20, 2.6,33, 2.75,30, 2.9,10, 3.0,3, 3.3,2, 3.6,10, 3.8,20, 4.0,30, 4.2,35, 4.4,30, 4.6,25, 4.8,20, 5.0,12],
  [1.5,0, 2.5,1, 2.8,3, 3.0,8, 3.2,3, 3.5,5, 3.8,20, 4.0,40, 4.15,58, 4.3,50, 4.5,35, 4.7,25, 4.9,20, 5.0,15],
  [-2,0, 3.0,0, 3.4,5, 3.7,15, 3.9,22, 4.1,25, 4.3,28, 4.5,32, 4.7,40, 4.9,45, 5.0,50]
];

const panels = {
  set_18: [set18_N5, set18_N4, set18_N3, set18_N2, set18_N1, set18_S3, set18_S2, set18_S1],
  dez_18: [dez18_N5, dez18_N4, dez18_N3, dez18_N2, dez18_N1, dez18_S3, dez18_S2, dez18_S1],
  abr_19: [abr19_N5, abr19_N4, abr19_N3, abr19_N2, abr19_N1, abr19_S3, abr19_S2, abr19_S1],
  jul_19: [jul19_N5, jul19_N4, jul19_N3, jul19_N2, jul19_N1, jul19_S3, jul19_S2, jul19_S1]
};

const fig = document.getElementById('fig');
const panelW = 243, panelH = 136;
const colLeft = c => Math.round(86 + c * 255.3);
const rowTop = r => Math.round(47 + r * 147.2);
const fontFamily = '"Liberation Sans", Arial, sans-serif';

function toPoints(flat) {
  var out = [];
  for (var i = 0; i < flat.length; i += 2) out.push({ x: flat[i], y: flat[i + 1] });
  return out;
}

// dark frame round each panel, like theme_bw
const panelBox = {
  id: 'panelBox',
  afterDraw: function (chart) {
    var a = chart.chartArea, ctx = chart.ctx;
    ctx.save();
    ctx.strokeStyle = '#333333';
    ctx.lineWidth = 1;
    ctx.strokeRect(a.left + 0.5, a.top + 0.5, a.right - a.left - 1, a.bottom - a.top - 1);
    ctx.restore();
  }
};

// keep every panel the same size: drop the label overflow margins chart.js adds
function noMargins(s) {
  s.paddingLeft = 0;
  s.paddingRight = 0;
  s.paddingTop = 0;
  s.paddingBottom = 0;
}

function addDiv(cls, left, top, width, height, text) {
  var d = document.createElement('div');
  d.className = cls;
  d.style.left = left + 'px';
  d.style.top = top + 'px';
  if (width != null) d.style.width = width + 'px';
  if (height != null) d.style.height = height + 'px';
  var s = document.createElement('span');
  s.textContent = text;
  d.appendChild(s);
  fig.appendChild(d);
  return d;
}

samples.forEach(function (sample, c) {
  levels.forEach(function (level, r) {
    var L = colLeft(c), T = rowTop(r);
    var leftCol = c === 0, bottomRow = r === levels.length - 1;
    var ml = leftCol ? L : 10, mt = 10, mr = 10, mb = bottomRow ? 40 : 10;
    var canvas = document.createElement('canvas');
    canvas.width = panelW + ml + mr;
    canvas.height = panelH + mt + mb;
    canvas.style.left = (L - ml) + 'px';
    canvas.style.top = (T - mt) + 'px';
    fig.appendChild(canvas);

    var panel = panels[sample][r];
    new Chart(canvas, {
      type: 'line',
      data: {
        datasets: seriesNames.map(function (name, k) {
          return {
            label: name,
            data: toPoints(panel[k]),
            borderColor: seriesColors[k],
            backgroundColor: seriesColors[k],
            borderWidth: 2,
            pointRadius: 0,
            tension: 0,
            fill: false,
            order: seriesNames.length - k
          };
        })
      },
      options: {
        responsive: false,
        animation: false,
        devicePixelRatio: 1,
        layout: { padding: { left: leftCol ? 0 : 10, right: 10, top: 10, bottom: 10 } },
        plugins: { legend: { display: false }, tooltip: { enabled: false } },
        scales: {
          x: {
            type: 'linear',
            min: -2.35,
            max: 5.35,
            afterBuildTicks: function (s) { s.ticks = xGrid.map(function (v) { return { value: v }; }); },
            afterFit: function (s) { s.height = bottomRow ? 30 : 0; noMargins(s); },
            border: { display: false },
            grid: {
              drawTicks: bottomRow,
              tickLength: 5,
              tickWidth: 1,
              color: function (ctx) { return ctx.tick && xTickLabels.indexOf(ctx.tick.value) >= 0 ? '#ebebeb' : '#f2f2f2'; },
              lineWidth: function (ctx) { return ctx.tick && xTickLabels.indexOf(ctx.tick.value) >= 0 ? 1.2 : 0.8; },
              tickColor: function (ctx) { return ctx.tick && xTickLabels.indexOf(ctx.tick.value) >= 0 ? '#333333' : 'rgba(0,0,0,0)'; }
            },
            ticks: {
              display: bottomRow,
              autoSkip: false,
              maxRotation: 0,
              padding: 3,
              color: '#4d4d4d',
              font: { size: 19, family: fontFamily },
              callback: function (v) { return xTickLabels.indexOf(v) >= 0 ? String(v) : ''; }
            }
          },
          y: {
            type: 'linear',
            min: -5.07,
            max: 106.5,
            afterBuildTicks: function (s) { s.ticks = yGrid.map(function (v) { return { value: v }; }); },
            afterFit: function (s) { s.width = leftCol ? L : 0; noMargins(s); },
            border: { display: false },
            grid: {
              drawTicks: leftCol,
              tickLength: 5,
              tickWidth: 1,
              color: function (ctx) { return ctx.tick && yTickLabels.indexOf(ctx.tick.value) >= 0 ? '#ebebeb' : '#f2f2f2'; },
              lineWidth: function (ctx) { return ctx.tick && yTickLabels.indexOf(ctx.tick.value) >= 0 ? 1.2 : 0.8; },
              tickColor: function (ctx) { return ctx.tick && yTickLabels.indexOf(ctx.tick.value) >= 0 ? '#333333' : 'rgba(0,0,0,0)'; }
            },
            ticks: {
              display: leftCol,
              autoSkip: false,
              padding: 7,
              color: '#4d4d4d',
              font: { size: 19, family: fontFamily },
              callback: function (v) { return yTickLabels.indexOf(v) >= 0 ? String(v) : ''; }
            }
          }
        }
      },
      plugins: [panelBox]
    });

    if (r === 0) addDiv('strip top', L, 10, panelW, T - 10, sample);
    if (c === samples.length - 1) addDiv('strip side', L + panelW, T, 38, panelH, level);
  });
});

// axis titles
var yTitle = addDiv('title', 8, 618, null, null, '%');
yTitle.style.transform = 'rotate(-90deg)';
var xTitle = addDiv('title', 0, 1248, null, null, 'phi');
xTitle.style.left = (colLeft(0) + (colLeft(3) + panelW - colLeft(0)) / 2 - 16) + 'px';

// legend
var legend = document.createElement('div');
legend.id = 'legend';
seriesNames.forEach(function (name, k) {
  var key = document.createElement('span');
  key.className = 'key';
  key.style.background = seriesColors[k];
  var lab = document.createElement('span');
  lab.className = 'lab';
  lab.textContent = name;
  legend.appendChild(key);
  legend.appendChild(lab);
});
fig.appendChild(legend);
</script>
</body>
</html>
